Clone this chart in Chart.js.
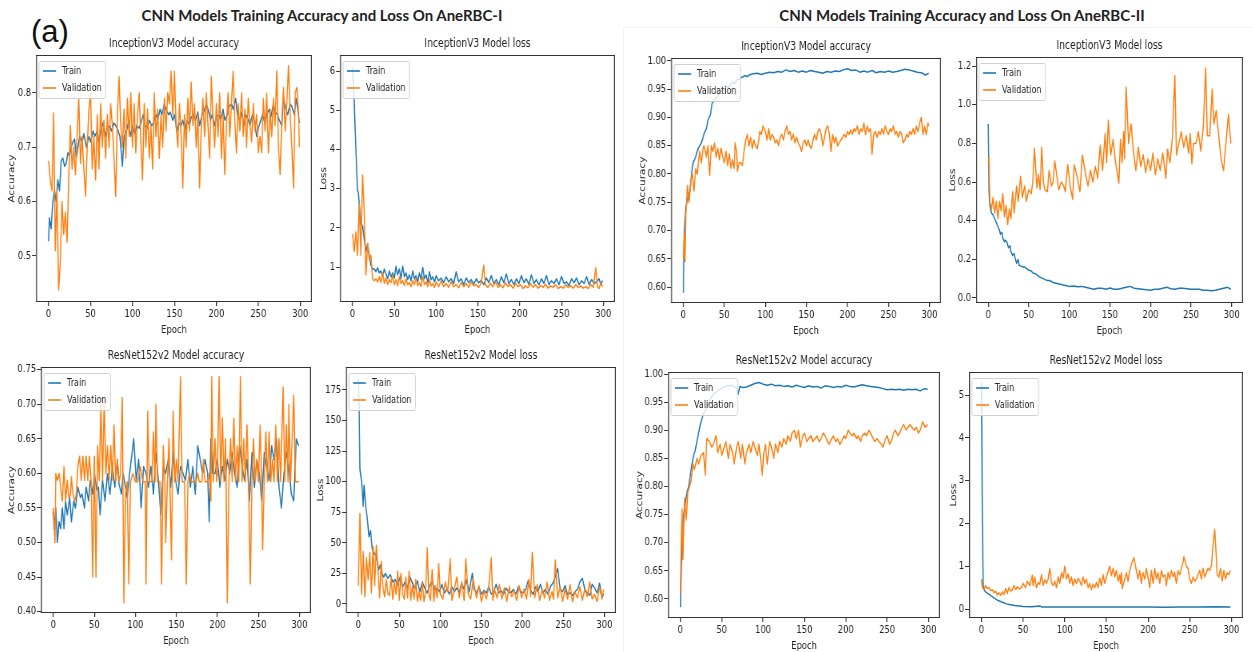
<!DOCTYPE html>
<html>
<head>
<meta charset="utf-8">
<script src="https://cdn.jsdelivr.net/npm/chart.js@4.4.1/dist/chart.umd.min.js"></script>
<style>
  body { margin: 0; background: #fff; }
  #page { position: relative; width: 1253px; height: 652px; overflow: hidden; background: #fff; }
  .head { position: absolute; top: 6px; font-family: Lato, "Open Sans", sans-serif; font-weight: bold; font-size: 15px; color: #222; white-space: nowrap; transform: translateX(-50%); }
  #tag { position: absolute; left: 31px; top: 16px; font-family: "Liberation Sans", Arial, sans-serif; font-size: 31px; color: #111; line-height: 1; }
  .sep { position: absolute; background: #f3f3f3; }
</style>
</head>
<body>
<div id="page">
  <div class="sep" style="left:623px;top:27px;width:1px;height:625px"></div>
  <div class="sep" style="left:623px;top:27px;width:630px;height:1px"></div>
  <div id="tag">(a)</div>
  <div class="head" style="left:322px">CNN Models Training Accuracy and Loss On AneRBC-I</div>
  <div class="head" style="left:962px">CNN Models Training Accuracy and Loss On AneRBC-II</div>
</div>
<script>
// tick values
const xTicks = [0, 50, 100, 150, 200, 250, 300];
const incAccTicksI = [0.5, 0.6, 0.7, 0.8];
const incLossTicksI = [1, 2, 3, 4, 5, 6];
const incAccTicksII = [0.60, 0.65, 0.70, 0.75, 0.80, 0.85, 0.90, 0.95, 1.00];
const incLossTicksII = [0.0, 0.2, 0.4, 0.6, 0.8, 1.0, 1.2];
const resAccTicksI = [0.40, 0.45, 0.50, 0.55, 0.60, 0.65, 0.70, 0.75];
const resLossTicksI = [0, 25, 50, 75, 100, 125, 150, 175];
const resAccTicksII = [0.60, 0.65, 0.70, 0.75, 0.80, 0.85, 0.90, 0.95, 1.00];
const resLossTicksII = [0, 1, 2, 3, 4, 5];

// [epoch, value]
const incAccTrainI = [[0,0.527],[1,0.57],[3,0.55],[5,0.60],[7,0.62],[9,0.60],[11,0.64],[13,0.62],[15,0.675],[17,0.68],[19,0.665],[21,0.67],[23,0.69],[25,0.685],[27,0.70],[29,0.71],[31,0.715],[33,0.68],[35,0.70],[37,0.72],[40,0.71],[42,0.725],[45,0.70],[48,0.72],[50,0.71],[53,0.73],[55,0.72],[58,0.73],[60,0.71],[63,0.735],[65,0.745],[68,0.72],[70,0.735],[73,0.74],[75,0.73],[78,0.745],[80,0.74],[83,0.73],[85,0.72],[88,0.665],[90,0.72],[93,0.73],[95,0.745],[98,0.72],[100,0.74],[103,0.725],[105,0.74],[108,0.735],[110,0.745],[113,0.76],[115,0.74],[118,0.735],[120,0.75],[123,0.74],[125,0.745],[128,0.76],[130,0.75],[133,0.77],[135,0.76],[138,0.78],[140,0.77],[143,0.76],[145,0.765],[148,0.75],[150,0.76],[153,0.73],[155,0.745],[158,0.74],[160,0.75],[163,0.73],[165,0.75],[168,0.74],[170,0.755],[173,0.76],[175,0.75],[178,0.765],[180,0.74],[183,0.76],[185,0.765],[188,0.78],[190,0.77],[193,0.75],[195,0.76],[198,0.74],[200,0.755],[203,0.76],[205,0.75],[208,0.77],[210,0.75],[213,0.76],[215,0.775],[218,0.78],[220,0.77],[223,0.79],[225,0.76],[228,0.75],[230,0.765],[233,0.74],[235,0.76],[238,0.75],[240,0.74],[243,0.76],[245,0.75],[248,0.72],[250,0.735],[253,0.75],[255,0.76],[258,0.745],[260,0.76],[263,0.77],[265,0.755],[268,0.78],[270,0.765],[273,0.76],[275,0.75],[278,0.74],[280,0.79],[283,0.77],[285,0.76],[288,0.78],[290,0.775],[293,0.76],[295,0.79],[297,0.77],[299,0.745]];
const incAccValI = [[0,0.675],[2,0.64],[4,0.62],[6,0.763],[8,0.51],[10,0.62],[12,0.437],[14,0.49],[16,0.60],[18,0.54],[20,0.58],[22,0.525],[24,0.64],[26,0.74],[28,0.66],[30,0.70],[32,0.65],[34,0.72],[36,0.79],[38,0.67],[40,0.72],[42,0.66],[44,0.61],[46,0.70],[48,0.77],[50,0.80],[52,0.66],[54,0.72],[56,0.64],[58,0.76],[60,0.66],[62,0.78],[64,0.70],[66,0.75],[68,0.68],[70,0.76],[72,0.70],[74,0.78],[76,0.74],[78,0.68],[80,0.61],[82,0.76],[84,0.83],[86,0.74],[88,0.70],[90,0.77],[92,0.68],[94,0.79],[96,0.72],[98,0.80],[100,0.70],[102,0.78],[104,0.69],[106,0.76],[108,0.80],[110,0.71],[112,0.64],[114,0.78],[116,0.70],[118,0.77],[120,0.68],[122,0.74],[124,0.66],[126,0.80],[128,0.72],[130,0.77],[132,0.68],[134,0.76],[136,0.70],[138,0.79],[140,0.73],[142,0.80],[144,0.78],[146,0.84],[148,0.76],[150,0.84],[152,0.74],[154,0.70],[156,0.78],[158,0.72],[160,0.625],[162,0.76],[164,0.70],[166,0.79],[168,0.73],[170,0.82],[172,0.74],[174,0.78],[176,0.70],[178,0.76],[180,0.625],[182,0.74],[184,0.79],[186,0.72],[188,0.80],[190,0.74],[192,0.68],[194,0.83],[196,0.75],[198,0.70],[200,0.78],[202,0.72],[204,0.80],[206,0.68],[208,0.76],[210,0.65],[212,0.74],[214,0.80],[216,0.72],[218,0.78],[220,0.84],[222,0.75],[224,0.69],[226,0.78],[228,0.73],[230,0.80],[232,0.72],[234,0.77],[236,0.70],[238,0.79],[240,0.74],[242,0.71],[244,0.78],[246,0.73],[248,0.76],[250,0.69],[252,0.72],[254,0.69],[256,0.79],[258,0.73],[260,0.80],[262,0.69],[264,0.77],[266,0.72],[268,0.79],[270,0.74],[272,0.84],[274,0.70],[276,0.65],[278,0.75],[280,0.81],[282,0.73],[284,0.78],[286,0.85],[288,0.76],[290,0.70],[292,0.625],[294,0.80],[296,0.81],[298,0.76],[299,0.70]];

const incLossTrainI = [[0,6.1],[2,5.2],[4,4.0],[6,2.95],[7,2.9],[8,2.6],[10,2.1],[12,2.05],[14,1.7],[16,1.4],[18,1.6],[20,1.3],[22,1.05],[24,0.95],[26,0.95],[28,0.88],[30,0.98],[32,0.85],[34,0.9],[36,0.78],[38,0.95],[40,0.82],[42,0.7],[44,0.9],[46,0.75],[48,0.85],[50,0.72],[52,1.02],[54,0.8],[56,0.95],[58,0.7],[60,1.02],[62,0.75],[64,0.85],[66,0.68],[68,0.8],[70,0.65],[72,0.9],[74,0.7],[76,0.78],[78,0.62],[80,0.85],[82,0.68],[84,0.99],[86,0.7],[88,0.8],[90,0.6],[92,0.88],[94,0.68],[96,0.75],[98,0.62],[100,0.78],[103,0.65],[106,0.72],[109,0.6],[112,0.75],[115,0.62],[118,0.7],[121,0.58],[124,0.88],[127,0.62],[130,0.7],[133,0.55],[136,0.72],[139,0.6],[142,0.68],[145,0.56],[148,0.7],[151,0.6],[154,0.66],[157,0.55],[160,0.72],[163,0.6],[166,0.78],[169,0.58],[172,0.68],[175,0.55],[178,0.75],[181,0.6],[184,0.82],[187,0.57],[190,0.68],[193,0.55],[196,0.7],[199,0.58],[202,0.78],[205,0.6],[208,0.7],[211,0.55],[214,0.8],[217,0.58],[220,0.68],[223,0.55],[226,0.7],[229,0.58],[232,0.78],[235,0.55],[238,0.65],[241,0.58],[244,0.7],[247,0.55],[250,0.76],[253,0.58],[256,0.62],[259,0.52],[262,0.7],[265,0.6],[268,0.72],[271,0.55],[274,0.65],[277,0.58],[280,0.75],[283,0.55],[286,0.68],[289,0.58],[292,0.62],[295,0.7],[297,0.55],[299,0.65]];
const incLossValI = [[0,1.85],[2,1.4],[4,1.9],[6,1.3],[8,2.6],[10,1.3],[12,3.35],[14,2.4],[16,0.8],[18,1.6],[20,1.2],[22,1.3],[24,0.7],[26,0.65],[28,0.7],[30,0.62],[32,0.75],[34,0.6],[36,0.85],[38,0.58],[40,0.72],[42,0.55],[44,0.68],[46,0.6],[48,0.8],[50,0.55],[52,0.68],[54,0.52],[56,0.75],[58,0.58],[60,0.65],[62,0.52],[64,0.7],[66,0.55],[68,0.6],[70,0.5],[72,0.65],[74,0.55],[76,0.72],[78,0.52],[80,0.6],[82,0.5],[84,0.75],[86,0.55],[88,0.62],[90,0.5],[92,0.68],[94,0.52],[96,0.58],[98,0.48],[100,0.62],[103,0.5],[106,0.65],[109,0.5],[112,0.58],[115,0.48],[118,0.62],[121,0.5],[124,0.55],[127,0.47],[130,0.6],[133,0.5],[136,0.58],[139,0.48],[142,0.62],[145,0.52],[148,0.55],[151,0.48],[154,0.6],[157,1.05],[159,0.55],[162,0.48],[165,0.58],[168,0.5],[171,0.62],[174,0.48],[177,0.55],[180,0.47],[183,0.6],[186,0.5],[189,0.55],[192,0.46],[195,0.58],[198,0.5],[201,0.55],[204,0.45],[207,0.52],[210,0.47],[213,0.58],[216,0.48],[219,0.55],[222,0.46],[225,0.53],[228,0.48],[231,0.56],[234,0.46],[237,0.52],[240,0.48],[243,0.55],[246,0.45],[249,0.5],[252,0.46],[255,0.55],[258,0.48],[261,0.52],[264,0.46],[267,0.55],[270,0.48],[273,0.52],[276,0.46],[279,0.5],[282,0.45],[285,0.55],[288,0.48],[291,0.98],[293,0.5],[295,0.45],[297,0.6],[299,0.5]];

const incAccTrainII = [[0,0.59],[1,0.69],[3,0.74],[5,0.755],[8,0.77],[10,0.80],[12,0.82],[15,0.83],[18,0.845],[20,0.85],[22,0.855],[25,0.87],[28,0.88],[30,0.895],[33,0.905],[35,0.925],[38,0.93],[40,0.935],[43,0.94],[45,0.945],[48,0.948],[50,0.95],[53,0.955],[55,0.953],[58,0.96],[60,0.962],[63,0.96],[65,0.966],[68,0.968],[70,0.97],[73,0.972],[75,0.974],[78,0.972],[80,0.975],[85,0.977],[90,0.978],[95,0.976],[100,0.978],[105,0.98],[110,0.979],[115,0.981],[120,0.98],[125,0.984],[130,0.981],[135,0.983],[140,0.98],[145,0.982],[150,0.98],[155,0.983],[160,0.981],[165,0.98],[170,0.978],[175,0.981],[180,0.98],[185,0.982],[190,0.981],[195,0.984],[200,0.986],[205,0.983],[210,0.984],[215,0.98],[220,0.982],[225,0.98],[230,0.983],[235,0.979],[240,0.981],[245,0.98],[250,0.982],[255,0.98],[260,0.981],[265,0.983],[270,0.985],[275,0.984],[280,0.982],[285,0.98],[290,0.979],[295,0.975],[299,0.978]];
const incAccValII = [[0,0.65],[1,0.69],[2,0.645],[3,0.73],[5,0.78],[7,0.75],[9,0.79],[11,0.80],[13,0.77],[15,0.81],[17,0.80],[19,0.83],[20,0.84],[22,0.82],[24,0.845],[25,0.85],[27,0.84],[28,0.83],[30,0.85],[32,0.798],[34,0.85],[36,0.84],[38,0.855],[40,0.83],[42,0.845],[44,0.825],[46,0.845],[48,0.83],[50,0.82],[52,0.84],[54,0.815],[56,0.835],[58,0.81],[60,0.825],[62,0.81],[63,0.855],[65,0.84],[66,0.805],[68,0.82],[70,0.82],[72,0.815],[74,0.84],[76,0.86],[78,0.87],[80,0.85],[82,0.865],[84,0.845],[86,0.86],[88,0.85],[90,0.845],[92,0.86],[93,0.875],[95,0.87],[97,0.885],[100,0.875],[102,0.86],[104,0.88],[106,0.86],[108,0.87],[110,0.865],[112,0.855],[114,0.86],[116,0.85],[118,0.865],[120,0.87],[122,0.86],[124,0.875],[126,0.885],[128,0.87],[130,0.875],[132,0.86],[134,0.87],[136,0.855],[138,0.865],[140,0.855],[142,0.85],[144,0.84],[146,0.855],[148,0.86],[150,0.85],[152,0.86],[154,0.85],[156,0.845],[158,0.86],[160,0.87],[162,0.86],[164,0.875],[166,0.88],[168,0.87],[170,0.85],[172,0.865],[174,0.88],[176,0.885],[178,0.87],[180,0.84],[182,0.87],[184,0.855],[186,0.865],[188,0.85],[190,0.855],[192,0.86],[194,0.865],[196,0.87],[198,0.865],[200,0.875],[202,0.87],[204,0.878],[206,0.87],[208,0.88],[210,0.875],[212,0.885],[214,0.87],[216,0.88],[218,0.875],[220,0.89],[222,0.87],[224,0.885],[226,0.875],[228,0.88],[230,0.835],[232,0.87],[234,0.875],[236,0.865],[238,0.875],[240,0.87],[242,0.88],[244,0.87],[246,0.885],[248,0.875],[250,0.87],[252,0.88],[254,0.875],[256,0.885],[258,0.87],[260,0.875],[262,0.865],[264,0.875],[266,0.87],[268,0.855],[270,0.86],[272,0.87],[274,0.865],[276,0.875],[278,0.87],[280,0.88],[282,0.87],[284,0.885],[286,0.875],[288,0.89],[290,0.9],[292,0.87],[294,0.885],[296,0.87],[298,0.89],[299,0.885]];

const incLossTrainII = [[0,0.9],[1,0.55],[2,0.48],[4,0.44],[6,0.43],[8,0.41],[10,0.39],[12,0.37],[14,0.35],[15,0.33],[17,0.34],[18,0.31],[20,0.29],[21,0.3],[23,0.29],[25,0.26],[27,0.27],[28,0.24],[30,0.22],[32,0.23],[33,0.21],[35,0.18],[37,0.2],[38,0.17],[40,0.165],[43,0.16],[45,0.16],[48,0.15],[50,0.145],[53,0.14],[55,0.13],[58,0.125],[60,0.12],[63,0.11],[65,0.105],[68,0.1],[70,0.095],[73,0.09],[75,0.09],[78,0.085],[80,0.08],[85,0.075],[90,0.07],[95,0.065],[100,0.06],[105,0.062],[110,0.058],[115,0.06],[120,0.055],[125,0.05],[130,0.045],[135,0.05],[140,0.05],[145,0.045],[150,0.052],[155,0.045],[160,0.045],[165,0.05],[170,0.055],[175,0.06],[180,0.05],[185,0.048],[190,0.045],[195,0.042],[200,0.04],[205,0.045],[210,0.045],[215,0.05],[220,0.055],[225,0.048],[230,0.045],[235,0.05],[240,0.05],[245,0.048],[250,0.045],[255,0.045],[260,0.045],[265,0.04],[270,0.04],[275,0.038],[280,0.04],[285,0.045],[290,0.05],[295,0.055],[299,0.045]];
const incLossValII = [[0,0.70],[1,0.73],[2,0.5],[4,0.46],[6,0.52],[8,0.44],[10,0.50],[12,0.41],[14,0.50],[16,0.45],[18,0.54],[20,0.42],[22,0.48],[24,0.38],[26,0.46],[28,0.41],[30,0.55],[32,0.44],[35,0.58],[37,0.50],[40,0.63],[42,0.52],[45,0.58],[47,0.50],[50,0.56],[53,0.54],[55,0.60],[57,0.775],[60,0.57],[62,0.64],[64,0.56],[66,0.78],[68,0.60],[70,0.56],[73,0.55],[75,0.66],[78,0.58],[80,0.60],[82,0.71],[85,0.62],[87,0.56],[90,0.60],[93,0.58],[95,0.55],[98,0.69],[101,0.58],[104,0.51],[106,0.69],[110,0.62],[113,0.55],[116,0.74],[120,0.64],[123,0.58],[126,0.66],[129,0.60],[132,0.68],[135,0.62],[138,0.79],[141,0.66],[144,0.85],[146,0.7],[148,0.92],[151,0.74],[154,0.82],[157,0.7],[161,0.594],[163,0.82],[165,0.7],[167,0.86],[168,0.72],[170,1.09],[173,0.8],[176,0.9],[179,0.76],[182,0.66],[185,0.78],[188,0.68],[191,0.74],[194,0.65],[197,0.72],[200,0.66],[203,0.75],[206,0.64],[209,0.72],[212,0.66],[215,0.75],[219,0.62],[221,0.77],[224,0.7],[227,0.83],[230,1.15],[232,0.74],[235,0.8],[238,0.86],[241,0.78],[244,0.84],[247,0.75],[249,0.85],[251,0.694],[253,0.8],[256,0.8],[259,0.86],[262,0.76],[265,0.88],[268,1.19],[270,0.84],[273,0.84],[276,1.08],[278,0.9],[281,0.97],[284,0.84],[287,0.72],[290,0.66],[293,0.8],[296,0.95],[299,0.8]];

const resAccTrainI = [[0,0.545],[1,0.52],[3,0.55],[5,0.50],[7,0.53],[9,0.52],[11,0.55],[13,0.52],[15,0.56],[17,0.54],[20,0.565],[22,0.53],[25,0.56],[27,0.55],[30,0.58],[33,0.565],[35,0.57],[38,0.55],[40,0.58],[43,0.56],[45,0.59],[48,0.57],[50,0.60],[53,0.575],[55,0.58],[57,0.54],[60,0.59],[63,0.56],[66,0.60],[69,0.57],[72,0.61],[75,0.58],[78,0.62],[80,0.585],[83,0.57],[85,0.60],[88,0.58],[90,0.565],[93,0.60],[96,0.63],[98,0.65],[101,0.59],[104,0.62],[107,0.55],[110,0.61],[113,0.60],[116,0.58],[119,0.61],[122,0.57],[125,0.63],[128,0.59],[131,0.54],[134,0.61],[137,0.60],[140,0.62],[143,0.58],[146,0.63],[149,0.59],[152,0.57],[155,0.61],[158,0.60],[161,0.59],[164,0.62],[167,0.58],[170,0.61],[173,0.57],[176,0.64],[179,0.62],[182,0.60],[185,0.62],[188,0.60],[190,0.53],[192,0.65],[194,0.60],[197,0.60],[200,0.62],[203,0.58],[206,0.61],[209,0.59],[212,0.62],[215,0.60],[218,0.63],[221,0.60],[224,0.58],[227,0.64],[230,0.61],[233,0.59],[236,0.62],[239,0.56],[242,0.63],[245,0.58],[248,0.62],[251,0.60],[254,0.56],[257,0.63],[260,0.61],[263,0.59],[266,0.64],[269,0.62],[272,0.65],[275,0.58],[278,0.55],[281,0.60],[284,0.63],[287,0.61],[290,0.57],[293,0.56],[296,0.65],[299,0.64]];
const resAccValI = [[0,0.55],[2,0.50],[3,0.60],[5,0.59],[7,0.60],[9,0.58],[11,0.56],[13,0.61],[15,0.56],[17,0.59],[19,0.565],[21,0.57],[22,0.595],[24,0.57],[26,0.56],[28,0.57],[30,0.61],[32,0.625],[34,0.59],[36,0.625],[38,0.59],[40,0.625],[42,0.59],[44,0.625],[46,0.59],[48,0.45],[50,0.625],[52,0.45],[54,0.64],[56,0.59],[58,0.70],[60,0.59],[62,0.71],[64,0.60],[66,0.64],[68,0.59],[70,0.64],[72,0.59],[74,0.67],[76,0.588],[78,0.62],[80,0.588],[82,0.60],[84,0.71],[86,0.413],[88,0.57],[90,0.588],[92,0.44],[94,0.588],[97,0.60],[100,0.588],[103,0.588],[106,0.61],[109,0.588],[112,0.588],[113,0.44],[115,0.69],[117,0.588],[120,0.588],[122,0.66],[124,0.588],[125,0.70],[127,0.588],[130,0.588],[132,0.44],[134,0.64],[136,0.588],[137,0.50],[139,0.588],[141,0.65],[142,0.588],[144,0.475],[146,0.69],[148,0.588],[150,0.62],[152,0.588],[155,0.74],[157,0.588],[160,0.588],[162,0.44],[164,0.588],[166,0.60],[168,0.588],[171,0.588],[174,0.588],[176,0.60],[178,0.588],[181,0.588],[183,0.62],[185,0.588],[188,0.588],[190,0.60],[192,0.56],[193,0.74],[195,0.588],[197,0.65],[199,0.588],[200,0.60],[202,0.74],[204,0.588],[206,0.68],[208,0.588],[210,0.65],[212,0.413],[214,0.588],[216,0.65],[218,0.588],[220,0.68],[222,0.588],[224,0.64],[226,0.588],[228,0.74],[230,0.588],[232,0.65],[234,0.588],[236,0.67],[238,0.588],[240,0.44],[242,0.588],[244,0.65],[246,0.588],[248,0.62],[250,0.588],[252,0.67],[254,0.588],[255,0.49],[257,0.588],[259,0.66],[261,0.588],[263,0.66],[265,0.588],[267,0.62],[269,0.588],[271,0.67],[273,0.588],[275,0.65],[277,0.588],[280,0.725],[282,0.588],[284,0.67],[286,0.588],[287,0.70],[289,0.588],[291,0.65],[293,0.713],[295,0.588],[297,0.588],[299,0.588]];

const resLossTrainI = [[0,185],[1,165],[2,110],[4,100],[6,80],[7,97],[9,80],[11,70],[13,55],[15,60],[17,45],[19,42],[21,40],[23,35],[25,28],[27,32],[29,25],[31,22],[33,25],[36,21],[39,24],[42,18],[45,20],[48,15],[51,22],[54,14],[57,18],[60,13],[63,22],[66,17],[69,12],[72,19],[75,10],[78,18],[81,13],[84,9],[87,15],[90,19],[93,11],[96,13],[99,10],[102,16],[105,9],[108,12],[111,8],[114,14],[117,10],[120,13],[123,9],[126,17],[129,12],[132,20],[135,10],[139,25],[141,12],[144,9],[147,14],[150,8],[153,11],[156,9],[159,14],[162,8],[165,10],[168,16],[171,9],[174,11],[177,8],[180,13],[183,10],[186,9],[189,12],[192,8],[195,14],[198,10],[201,9],[204,12],[207,19],[210,11],[213,8],[216,14],[219,10],[222,16],[225,9],[228,12],[231,8],[234,14],[237,17],[240,22],[243,29],[246,12],[249,10],[252,15],[255,8],[258,9],[261,7],[264,10],[267,12],[270,18],[273,21],[276,12],[279,9],[282,7],[285,16],[288,13],[291,9],[294,17],[297,5],[299,8]];
const resLossValI = [[0,15],[2,74],[4,8],[6,43],[8,6],[10,38],[12,20],[14,42],[16,9],[18,47],[20,15],[22,48],[24,28],[26,5],[28,35],[30,14],[32,6],[34,20],[36,9],[38,7],[40,22],[42,4],[44,18],[46,8],[48,27],[50,3],[52,25],[54,8],[56,4],[58,22],[60,5],[62,27],[64,3],[66,15],[68,4],[70,20],[72,2],[74,10],[76,3],[78,18],[80,2],[82,10],[84,46],[86,8],[88,3],[90,28],[92,2],[94,15],[96,5],[98,33],[100,8],[103,4],[106,18],[109,10],[112,37],[114,3],[117,12],[120,22],[123,5],[126,18],[129,3],[131,37],[134,8],[137,4],[140,20],[144,5],[147,15],[150,2],[153,10],[156,4],[159,14],[162,38],[164,3],[166,12],[169,5],[172,16],[175,4],[178,13],[181,2],[184,14],[187,6],[190,11],[193,3],[196,15],[199,5],[202,12],[205,4],[208,20],[210,6],[212,42],[215,5],[218,16],[221,3],[224,12],[227,5],[230,18],[233,3],[236,10],[238,4],[240,36],[243,5],[246,14],[249,2],[252,12],[255,4],[258,16],[261,2],[264,10],[267,5],[270,14],[273,3],[276,12],[279,6],[282,18],[285,4],[288,8],[291,2],[294,14],[297,4],[299,12]];

const resAccTrainII = [[0,0.585],[1,0.65],[2,0.70],[4,0.75],[6,0.77],[8,0.79],[10,0.80],[12,0.82],[14,0.84],[16,0.855],[18,0.865],[20,0.88],[22,0.895],[24,0.91],[26,0.92],[28,0.93],[30,0.935],[33,0.945],[36,0.955],[40,0.965],[45,0.97],[50,0.975],[55,0.978],[60,0.98],[65,0.978],[68,0.975],[70,0.964],[72,0.978],[75,0.976],[80,0.977],[85,0.98],[90,0.983],[95,0.985],[100,0.982],[105,0.98],[110,0.982],[115,0.979],[120,0.98],[125,0.978],[130,0.979],[135,0.977],[140,0.98],[145,0.978],[150,0.976],[155,0.979],[160,0.977],[165,0.978],[170,0.975],[175,0.979],[180,0.978],[185,0.976],[190,0.978],[195,0.977],[200,0.98],[205,0.978],[210,0.977],[215,0.979],[220,0.981],[225,0.979],[230,0.978],[235,0.977],[240,0.976],[245,0.974],[250,0.972],[255,0.973],[260,0.972],[265,0.973],[270,0.971],[275,0.973],[280,0.972],[285,0.973],[290,0.97],[295,0.974],[299,0.973]];
const resAccValII = [[0,0.61],[1,0.70],[2,0.76],[3,0.67],[5,0.78],[7,0.74],[9,0.79],[11,0.80],[13,0.81],[15,0.84],[17,0.83],[20,0.85],[22,0.84],[25,0.855],[28,0.86],[30,0.82],[32,0.885],[35,0.88],[38,0.87],[40,0.875],[43,0.89],[45,0.86],[48,0.875],[50,0.855],[53,0.87],[55,0.88],[58,0.85],[60,0.875],[63,0.86],[65,0.84],[68,0.87],[70,0.88],[73,0.85],[75,0.875],[78,0.84],[80,0.86],[83,0.875],[85,0.86],[88,0.88],[90,0.87],[93,0.855],[95,0.875],[97,0.85],[99,0.82],[101,0.86],[103,0.875],[105,0.84],[108,0.88],[110,0.87],[113,0.85],[115,0.875],[118,0.86],[120,0.88],[123,0.87],[125,0.885],[128,0.875],[130,0.89],[133,0.88],[135,0.895],[138,0.9],[140,0.885],[143,0.9],[145,0.87],[148,0.89],[150,0.895],[153,0.88],[155,0.885],[158,0.89],[160,0.88],[163,0.885],[165,0.89],[168,0.88],[170,0.885],[173,0.895],[175,0.89],[178,0.88],[180,0.875],[183,0.885],[185,0.89],[188,0.88],[190,0.885],[193,0.875],[195,0.88],[198,0.89],[200,0.885],[203,0.9],[205,0.895],[208,0.89],[210,0.895],[213,0.885],[215,0.89],[218,0.88],[220,0.89],[223,0.895],[225,0.89],[228,0.9],[230,0.895],[233,0.885],[235,0.88],[238,0.885],[240,0.88],[243,0.875],[245,0.87],[248,0.885],[250,0.89],[253,0.875],[255,0.88],[258,0.895],[260,0.9],[263,0.89],[265,0.895],[268,0.905],[270,0.91],[273,0.9],[275,0.905],[278,0.91],[280,0.905],[283,0.9],[285,0.905],[288,0.895],[290,0.9],[293,0.915],[296,0.905],[299,0.91]];

const resLossTrainII = [[0,5.3],[1,2.0],[2,0.55],[4,0.42],[6,0.38],[8,0.36],[10,0.33],[12,0.3],[15,0.26],[18,0.22],[20,0.2],[25,0.16],[30,0.12],[35,0.1],[40,0.08],[45,0.07],[50,0.06],[60,0.055],[70,0.07],[72,0.05],[80,0.05],[90,0.045],[100,0.05],[120,0.045],[140,0.05],[160,0.045],[180,0.05],[200,0.045],[220,0.04],[240,0.05],[260,0.05],[280,0.055],[299,0.045]];
const resLossValII = [[0,0.7],[1,0.5],[3,0.45],[5,0.55],[7,0.48],[9,0.5],[11,0.43],[13,0.45],[15,0.38],[17,0.42],[19,0.33],[21,0.38],[23,0.32],[25,0.4],[27,0.34],[29,0.48],[31,0.36],[33,0.5],[35,0.42],[37,0.45],[39,0.55],[41,0.45],[43,0.52],[45,0.47],[48,0.5],[50,0.6],[53,0.5],[55,0.65],[58,0.55],[61,0.79],[62,0.55],[64,0.75],[66,0.5],[68,0.62],[70,0.58],[72,0.8],[74,0.55],[76,0.68],[78,0.6],[80,0.7],[82,0.95],[84,0.62],[86,0.55],[88,0.65],[90,0.5],[92,0.75],[94,0.6],[96,0.85],[98,0.72],[100,1.0],[102,0.7],[104,0.82],[106,0.6],[108,0.75],[110,0.55],[112,0.7],[114,0.6],[116,0.72],[118,0.65],[120,0.55],[122,0.75],[124,0.6],[126,0.7],[128,0.5],[130,0.6],[132,0.45],[134,0.58],[136,0.5],[138,0.62],[140,0.5],[142,0.72],[144,0.55],[146,0.8],[148,0.6],[150,0.75],[154,1.0],[156,0.78],[158,0.95],[160,0.75],[162,0.9],[164,0.65],[166,0.8],[167,0.6],[168,0.85],[169,0.48],[172,0.7],[174,0.85],[176,0.65],[178,0.9],[180,1.05],[183,1.2],[185,1.0],[187,0.8],[188,0.7],[190,0.9],[192,0.6],[194,0.85],[196,0.7],[198,0.95],[202,0.5],[204,0.9],[206,0.6],[208,0.95],[210,0.7],[212,0.85],[214,0.6],[216,0.9],[218,0.75],[220,0.8],[222,0.55],[224,0.85],[226,0.7],[228,0.9],[230,0.75],[232,0.85],[234,0.6],[236,0.9],[238,0.8],[240,0.95],[242,1.1],[243,1.22],[246,1.0],[248,0.95],[250,0.7],[252,0.6],[254,0.75],[256,0.65],[258,0.7],[260,0.8],[262,0.9],[264,0.7],[266,0.95],[268,0.75],[270,0.85],[272,0.95],[274,0.9],[276,1.0],[278,1.5],[280,1.86],[282,1.2],[283,0.8],[285,0.75],[287,0.95],[289,0.65],[291,0.9],[293,0.7],[295,0.85],[297,0.8],[299,0.9]];

const FONT = "'DejaVu Sans', sans-serif";
const TRAIN_COLOR = "#1f77b4";
const VAL_COLOR = "#ff7f0e";
const TITLE_H = 24, X_H = 34, PAD_R = 4;
// the source panels are squeezed sideways, so each canvas is drawn wider and shrunk by CSS
const SX = 0.8;

// box = plot area [left, top, right, bottom] in page pixels, yW = room left of it
const panels = [
  { title: "InceptionV3 Model accuracy", yTitle: "Accuracy", train: incAccTrainI, val: incAccValI, yTicks: incAccTicksI, yMin: 0.415, yMax: 0.87, dec: 1, box: [36, 55, 312, 302], yW: 29 },
  { title: "InceptionV3 Model loss", yTitle: "Loss", train: incLossTrainI, val: incLossValI, yTicks: incLossTicksI, yMin: 0.107, yMax: 6.41, dec: 0, box: [340, 55, 615, 302], yW: 21 },
  { title: "InceptionV3 Model accuracy", yTitle: "Accuracy", train: incAccTrainII, val: incAccValII, yTicks: incAccTicksII, yMin: 0.572, yMax: 1.005, dec: 2, box: [671, 58, 941, 303], yW: 33 },
  { title: "InceptionV3 Model loss", yTitle: "Loss", train: incLossTrainII, val: incLossValII, yTicks: incLossTicksII, yMin: -0.026, yMax: 1.247, dec: 1, box: [976, 57, 1243, 303], yW: 28 },
  { title: "ResNet152v2 Model accuracy", yTitle: "Accuracy", train: resAccTrainI, val: resAccValI, yTicks: resAccTicksI, yMin: 0.398, yMax: 0.754, dec: 2, box: [41, 367, 311, 613], yW: 34 },
  { title: "ResNet152v2 Model loss", yTitle: "Loss", train: resLossTrainI, val: resLossValI, yTicks: resLossTicksI, yMin: -7.4, yMax: 193.8, dec: 0, box: [346, 367, 616, 613], yW: 30 },
  { title: "ResNet152v2 Model accuracy", yTitle: "Accuracy", train: resAccTrainII, val: resAccValII, yTicks: resAccTicksII, yMin: 0.566, yMax: 1.0036, dec: 2, box: [668, 372, 940, 618], yW: 33 },
  { title: "ResNet152v2 Model loss", yTitle: "Loss", train: resLossTrainII, val: resLossValII, yTicks: resLossTicksII, yMin: -0.21, yMax: 5.54, dec: 0, box: [969, 372, 1243, 618], yW: 20 }
];

// matplotlib-like closed frame around the plot area
const frameBox = {
  id: "frameBox",
  afterDraw(chart, args, opts) {
    const { ctx, chartArea: a } = chart;
    const k = opts.k;
    ctx.save();
    ctx.strokeStyle = "#333";
    ctx.lineWidth = 1;
    ctx.beginPath();
    ctx.moveTo(a.left, Math.round(a.top) + 0.5);
    ctx.lineTo(a.right, Math.round(a.top) + 0.5);
    ctx.moveTo(a.left, Math.round(a.bottom) - 0.5);
    ctx.lineTo(a.right, Math.round(a.bottom) - 0.5);
    ctx.stroke();
    ctx.lineWidth = 1 / k;
    ctx.beginPath();
    ctx.moveTo(a.left + 0.5 / k, a.top);
    ctx.lineTo(a.left + 0.5 / k, a.bottom);
    ctx.moveTo(a.right - 0.5 / k, a.top);
    ctx.lineTo(a.right - 0.5 / k, a.bottom);
    ctx.stroke();
    ctx.restore();
  }
};

// legend box in the upper left corner of the plot
const insideLegend = {
  id: "insideLegend",
  afterDatasetsDraw(chart, args, opts) {
    const { ctx, chartArea: a } = chart;
    const k = opts.k;
    const items = chart.data.datasets;
    ctx.save();
    ctx.font = "10px " + FONT;
    const textW = Math.max(...items.map((d) => ctx.measureText(d.label).width));
    const x0 = a.left + 3 / k, y0 = a.top + 6;
    const w = textW + 27 / k, h = items.length * 17 + 3;
    ctx.fillStyle = "rgba(255,255,255,0.8)";
    ctx.strokeStyle = "#d0d0d0";
    ctx.lineWidth = 1;
    ctx.beginPath();
    ctx.roundRect(x0, y0 + 0.5, w, h, 2);
    ctx.fill();
    ctx.stroke();
    ctx.textBaseline = "middle";
    items.forEach((d, i) => {
      const y = y0 + 10 + i * 17;
      ctx.strokeStyle = d.borderColor;
      ctx.lineWidth = 1.6;
      ctx.beginPath();
      ctx.moveTo(x0 + 4 / k, y);
      ctx.lineTo(x0 + 17 / k, y);
      ctx.stroke();
      ctx.fillStyle = "#222";
      ctx.fillText(d.label, x0 + 23 / k, y);
    });
    ctx.restore();
  }
};

const page = document.getElementById("page");

panels.forEach((p) => {
  const [l, t, r, b] = p.box;
  const w = r - l + p.yW + PAD_R;
  const h = b - t + TITLE_H + X_H;
  const wi = Math.round(w / SX);
  const k = w / wi;
  const cv = document.createElement("canvas");
  cv.width = wi;
  cv.height = h;
  cv.style.cssText = `position:absolute;left:${l - p.yW}px;top:${t - TITLE_H}px;width:${w}px;height:${h}px`;
  page.appendChild(cv);

  new Chart(cv, {
    type: "line",
    data: {
      datasets: [
        { label: "Train", data: p.train.map(([x, y]) => ({ x, y })), borderColor: TRAIN_COLOR, borderWidth: 1.5, pointRadius: 0, borderJoinStyle: "round", order: 2 },
        { label: "Validation", data: p.val.map(([x, y]) => ({ x, y })), borderColor: VAL_COLOR, borderWidth: 1.5, pointRadius: 0, borderJoinStyle: "round", order: 1 }
      ]
    },
    options: {
      responsive: false,
      animation: false,
      devicePixelRatio: 1,
      layout: { padding: { left: 0, right: PAD_R / k, top: 0, bottom: 0 } },
      plugins: {
        legend: { display: false },
        tooltip: { enabled: false },
        title: { display: true, fullSize: false, text: p.title, color: "#222", font: { family: FONT, size: 11.5, lineHeight: 1, weight: "normal" }, padding: { top: 7, bottom: 5.5 } },
        frameBox: { k },
        insideLegend: { k }
      },
      scales: {
        x: {
          type: "linear",
          min: -15,
          max: 314,
          afterBuildTicks: (s) => { s.ticks = xTicks.map((v) => ({ value: v })); },
          afterFit: (s) => { s.height = X_H; },
          grid: { drawOnChartArea: false, tickLength: 4, color: "#333", lineWidth: 1 / k },
          border: { display: false },
          ticks: { color: "#222", font: { family: FONT, size: 10.5 }, padding: 2, maxRotation: 0 },
          title: { display: true, text: "Epoch", color: "#222", font: { family: FONT, size: 10.5, lineHeight: 1.1 }, padding: { top: 0, bottom: 0 } }
        },
        y: {
          min: p.yMin,
          max: p.yMax,
          afterBuildTicks: (s) => { s.ticks = p.yTicks.map((v) => ({ value: v })); },
          afterFit: (s) => { s.width = p.yW / k; },
          grid: { drawOnChartArea: false, tickLength: 4 / k, color: "#333" },
          border: { display: false },
          ticks: { color: "#222", font: { family: FONT, size: 10.5 }, padding: 1, callback: (v) => Number(v).toFixed(p.dec) },
          title: { display: true, text: p.yTitle, color: "#222", font: { family: FONT, size: 10.5, lineHeight: 1.1 }, padding: { top: 0, bottom: 0 } }
        }
      }
    },
    plugins: [frameBox, insideLegend]
  });
});
</script>
</body>
</html>
